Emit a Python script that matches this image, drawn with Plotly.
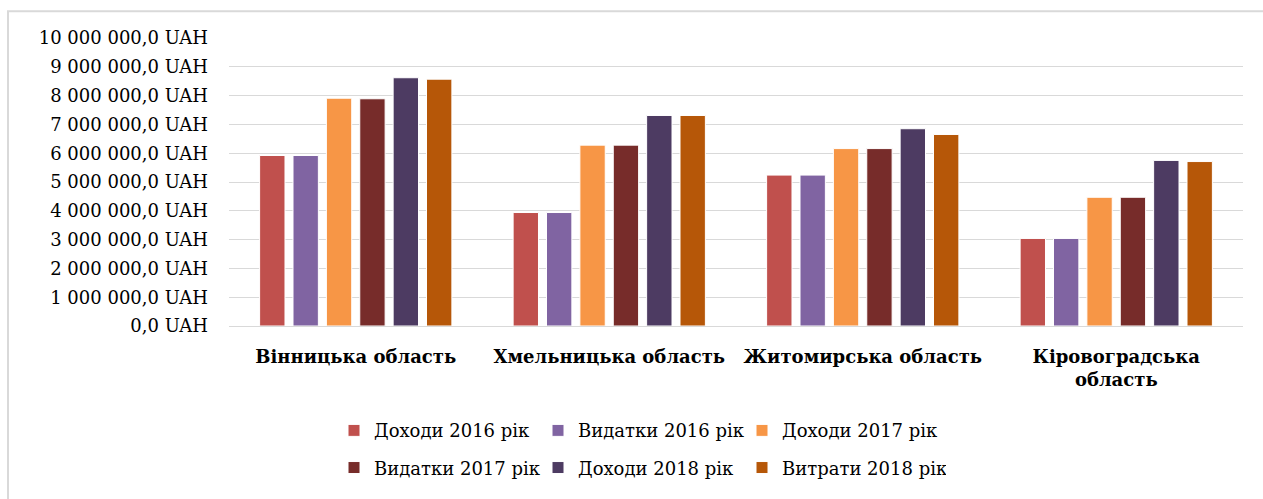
import plotly.graph_objects as go

categories = ["Вінницька область", "Хмельницька область", "Житомирська область", "Кіровоградська<br>область"]
series_names = ["Доходи 2016 рік", "Видатки 2016 рік", "Доходи 2017 рік",
                "Видатки 2017 рік", "Доходи 2018 рік", "Витрати 2018 рік"]
dohody_2016 = [5920000, 3940000, 5240000, 3040000]
vydatky_2016 = [5920000, 3940000, 5240000, 3040000]
dohody_2017 = [7910000, 6280000, 6160000, 4470000]
vydatky_2017 = [7890000, 6280000, 6160000, 4470000]
dohody_2018 = [8620000, 7310000, 6850000, 5750000]
vytraty_2018 = [8570000, 7310000, 6650000, 5710000]
tick_values = [0, 1000000, 2000000, 3000000, 4000000, 5000000,
               6000000, 7000000, 8000000, 9000000, 10000000]
tick_labels = ["0,0 UAH", "1 000 000,0 UAH", "2 000 000,0 UAH", "3 000 000,0 UAH",
               "4 000 000,0 UAH", "5 000 000,0 UAH", "6 000 000,0 UAH", "7 000 000,0 UAH",
               "8 000 000,0 UAH", "9 000 000,0 UAH", "10 000 000,0 UAH"]

values = [dohody_2016, vydatky_2016, dohody_2017, vydatky_2017, dohody_2018, vytraty_2018]
colors = ["#C0504D", "#8064A2", "#F79646", "#772C2A", "#4D3B62", "#B65708"]
legends = ["legend", "legend", "legend", "legend2", "legend2", "legend2"]

font = "DejaVu Serif"
fig = go.Figure()
for name, vals, col, lg in zip(series_names, values, colors, legends):
    fig.add_trace(go.Bar(x=categories, y=vals, name=name, marker_color=col,
                         marker_line_color="white", marker_line_width=1, legend=lg))

S = 0.985  # observed vertical scale of the photographed page
W, H = 1263, 499

def vy(y):
    return y / S

L = 229
R = W - 1243
T = round(vy(37))
B = round(H - vy(332))
pw, ph = W - L - R, H - T - B

def px_x(x):
    return (x - L) / pw

def px_y(y):
    return (H - B - vy(y)) / ph

legend_common = dict(orientation="h", font=dict(family=font, size=18, color="#000"),
                     itemwidth=30, entrywidth=159, entrywidthmode="pixels",
                     bgcolor="rgba(0,0,0,0)", traceorder="normal", tracegroupgap=0)

fig.update_layout(
    width=W, height=H,
    margin=dict(l=L, r=R, t=T, b=B),
    paper_bgcolor="white", plot_bgcolor="white",
    barmode="group", bargap=0.21, bargroupgap=0.24,
    font=dict(family=font, color="#000"),
    xaxis=dict(showgrid=False, showline=True, linecolor="#D9D9D9", linewidth=1,
               tickfont=dict(family=font, size=18, color="#000", weight="bold"),
               ticks="", ticklabelstandoff=14),
    yaxis=dict(range=[0, 10000000], tickvals=tick_values, ticktext=tick_labels,
               showgrid=True, gridcolor="#D9D9D9", gridwidth=1, zeroline=False,
               showline=False, ticks="", ticklabelstandoff=20,
               tickfont=dict(family=font, size=18, color="#000")),
    legend=dict(x=px_x(334), y=px_y(439), xanchor="left", yanchor="middle", **legend_common),
    legend2=dict(x=px_x(334), y=px_y(477), xanchor="left", yanchor="middle", **legend_common),
    shapes=[dict(type="rect", xref="paper", yref="paper",
                 x0=px_x(8), x1=px_x(1290), y0=px_y(530), y1=px_y(10),
                 line=dict(color="#D9D9D9", width=2), fillcolor="rgba(0,0,0,0)", layer="below")],
)

fig.write_html(
    "out.html",
    config={"displayModeBar": False},
    post_script="document.body.style.margin='0';document.body.style.overflow='hidden';",
)
